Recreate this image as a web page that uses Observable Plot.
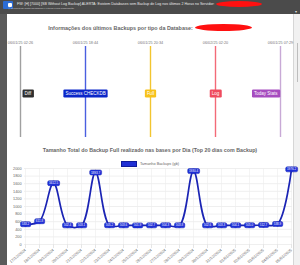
<!DOCTYPE html>
<html><head><meta charset="utf-8">
<script src="https://cdn.jsdelivr.net/npm/d3@7"></script>
<script src="https://cdn.jsdelivr.net/npm/@observablehq/plot@0.6"></script>
<style>
body{margin:0;width:300px;height:265px;overflow:hidden;font-family:"Liberation Sans",Arial,sans-serif}
#page{position:relative;width:300px;height:265px;background:#5a5a5a;overflow:hidden}
#topbar{position:absolute;left:0;top:0;width:300px;height:14px;background:#4b4b4b}
#icon{position:absolute;left:3px;top:1px;width:10px;height:8px;background:#2c6cd4;border-radius:1px}
#icon:after{content:"";position:absolute;left:5px;top:2px;width:4px;height:4px;background:#fff;border-radius:1px}
#l1{position:absolute;left:17px;top:1.5px;font-size:3.6px;color:#eaeaea;white-space:nowrap}
#l2{position:absolute;left:8px;top:7.3px;font-size:2.4px;color:#cfcfcf;white-space:nowrap}
#redtop{position:absolute;left:216px;top:0.5px;width:46px;height:6px;background:#ff1010;border-radius:50%}
#chev{position:absolute;left:295px;top:9px;font-size:4px;color:#ddd}
#panel{position:absolute;left:7px;top:14px;width:286px;height:251px;background:#fff}
#rstrip{position:absolute;left:293px;top:14px;width:7px;height:251px;background:#f1f1f1;border-left:0.6px solid #d6d6d6;box-sizing:border-box}
#thumb{position:absolute;left:297px;top:43px;width:0.8px;height:39px;background:#bdbdbd}
.title{position:absolute;left:0;width:300px;text-align:center;font-weight:bold;color:#666;white-space:nowrap}
#t1{top:23.5px;font-size:5.4px}
#t1 .red{display:inline-block;width:57px;height:7px;background:#ff1010;border-radius:50%;vertical-align:-1.5px;margin-left:2px}
#t2{top:147px;font-size:5.3px}
#tl{position:absolute;left:0;top:36px}
#lc{position:absolute;left:0;top:166px}
#legend{position:absolute;left:0;top:161.3px;width:300px;display:flex;justify-content:center;align-items:center;font-size:3.8px;color:#666}
#legend .sw{width:14px;height:3.4px;background:#1f2fd4;border:0.6px solid #0f1a9a;margin-right:3px}
svg{overflow:visible}
</style></head><body>
<div id="page">
  <div id="topbar">
    <div id="icon"></div>
    <div id="l1">FW: [H] [7000] [SB Without Log Backup] ALERTA: Existem Databases sem Backup de Log nos últimos 2 Horas no Servidor:</div>
    <div id="redtop"></div>
    <div id="l2">ⓘ O remetente desta mensagem é externo à sua organização.</div>
    <div id="chev">▾</div>
  </div>
  <div id="panel"></div>
  <div id="rstrip"></div>
  <div id="thumb"></div>
  <div class="title" id="t1">Informações dos últimos Backups por tipo da Database:<span class="red"></span></div>
  <div id="tl"></div>
  <div class="title" id="t2">Tamanho Total do Backup Full realizado nas bases por Dia (Top 20 dias com Backup)</div>
  <div id="legend"><div class="sw"></div><span>Tamanho Backups (gb)</span></div>
  <div id="lc"></div>
</div>
<script>
// ---- timeline data ----
const tlTimes = ["06/01/25 02:26","06/01/25 18:44","06/01/25 20:34","06/02/25 02:20","06/01/25 07:29"];
const tlTypes = ["Diff","Success CHECKDB","Full","Log","Today Stats"];
const tlBoxColors = ["#2f2f2f","#0b27c9","#f7c21b","#ef4b5e","#a64cbf"];
const tlLineColors = ["#a0a0a0","#4a5fe0","#f2c530","#f36a78","#c8a9d6"];
const tlAnchors = ["start","middle","middle","middle","end"];

// ---- line chart data ----
const days = ["17/12/2024","18/12/2024","19/12/2024","20/12/2024","21/12/2024","22/12/2024","23/12/2024","24/12/2024","25/12/2024","26/12/2024","27/12/2024","28/12/2024","29/12/2024","30/12/2024","31/12/2024","01/01/2025","02/01/2025","03/01/2025","04/01/2025","05/01/2025"];
const sizesGb = [533.2,611.8,1612.5,502.4,503.1,1893.7,505.2,503.6,501.9,502.7,504.3,503.8,1930.4,502.6,503.3,504.1,505.0,512.7,538.9,1976.2];
const yTicks = [0,200,400,600,800,1000,1200,1400,1600,1800,2000];

const tlData = tlTimes.map((t,i)=>({time:t,type:tlTypes[i],box:tlBoxColors[i],line:tlLineColors[i],anchor:tlAnchors[i]}));
const series = days.map((d,i)=>({day:d,gb:sizesGb[i]}));

function boxify(svg, padX, padY, rx, strokeCol){
  svg.querySelectorAll('g[aria-label="text"]').forEach(g=>{
    g.querySelectorAll("text").forEach(t=>{
      const b = t.getBBox();
      const col = t.getAttribute("stroke") || g.getAttribute("stroke") || "#333";
      const r = document.createElementNS("http://www.w3.org/2000/svg","rect");
      r.setAttribute("x", b.x-padX); r.setAttribute("y", b.y-padY);
      r.setAttribute("width", b.width+2*padX); r.setAttribute("height", b.height+2*padY);
      r.setAttribute("rx", rx); r.setAttribute("fill", col);
      if(strokeCol){r.setAttribute("stroke", strokeCol); r.setAttribute("stroke-width", 0.5);} else r.setAttribute("stroke","none");
      if(t.getAttribute("transform")) r.setAttribute("transform", t.getAttribute("transform"));
      t.setAttribute("stroke","none");
      t.parentNode.insertBefore(r, t);
    });
  });
}

const ruleMarks = tlData.map(d=>Plot.ruleX(tlData.filter(e=>e.type===d.type),{x:"time", stroke:d.line, strokeWidth:1.4}));

const tl = Plot.plot({
  width:300, height:101, marginTop:10, marginBottom:0, marginLeft:20, marginRight:20,
  style:{background:"transparent", fontSize:"3.8px", color:"#777", fontFamily:"Liberation Sans, Arial, sans-serif"},
  x:{type:"point", domain:tlTimes, padding:0, axis:"top", tickSize:0, tickPadding:2.5, label:null},
  y:{domain:[0,1], axis:null},
  color:{type:"identity"},
  marks:[
    ...ruleMarks,
    Plot.text(tlData.filter(d=>d.anchor==="start"),{x:"time", text:"type", textAnchor:"start", dx:4, dy:1.5, fill:"white", stroke:"box", strokeWidth:0, fontSize:4.5}),
    Plot.text(tlData.filter(d=>d.anchor==="middle"),{x:"time", text:"type", textAnchor:"middle", dy:1.5, fill:"white", stroke:"box", strokeWidth:0, fontSize:4.5}),
    Plot.text(tlData.filter(d=>d.anchor==="end"),{x:"time", text:"type", textAnchor:"end", dx:-3, dy:1.5, fill:"white", stroke:"box", strokeWidth:0, fontSize:4.5})
  ]
});
document.getElementById("tl").appendChild(tl);
boxify(tl,2,1.5,1.2,null);

const fmt = d3.format(".1f");
const lc = Plot.plot({
  width:300, height:99, marginTop:2, marginBottom:21, marginLeft:24, marginRight:8,
  style:{background:"transparent", fontSize:"3.8px", color:"#666", fontFamily:"Liberation Sans, Arial, sans-serif"},
  x:{type:"point", domain:days, padding:0},
  y:{domain:[0,2000]},
  marks:[
    Plot.gridY(yTicks,{stroke:"#e4e4e4", strokeOpacity:1, strokeWidth:0.6}),
    Plot.gridX(days,{stroke:"#ececec", strokeOpacity:1, strokeWidth:0.6}),
    Plot.axisY(yTicks,{tickSize:0, tickPadding:3, tickFormat:"d", label:null, fontSize:3.8, fill:"#666"}),
    Plot.axisX({tickRotate:-40, tickSize:4, stroke:"#e6e6e6", tickPadding:1, label:null, fontSize:4, fill:"#666"}),
    Plot.line(series,{x:"day", y:"gb", curve:"catmull-rom", stroke:"#1b24b4", strokeWidth:1.7}),
    Plot.dot(series,{x:"day", y:"gb", r:2.2, fill:"#2030cc", stroke:"#121c9c", strokeWidth:0.5}),
    Plot.text(series,{x:"day", y:"gb", text:d=>fmt(d.gb), fill:"white", stroke:"#1e2fd6", strokeWidth:0, fontSize:3})
  ]
});
document.getElementById("lc").appendChild(lc);
boxify(lc,1.2,0.5,1.5,"#101a98");
</script>
</body></html>
